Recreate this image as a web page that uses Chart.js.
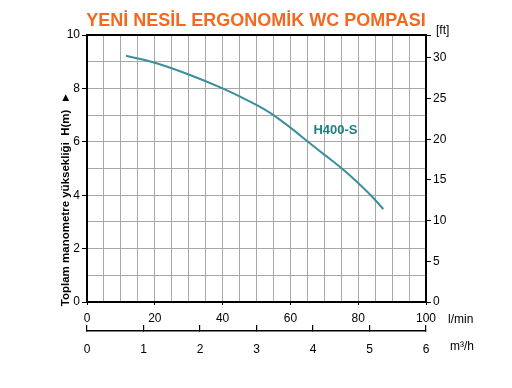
<!DOCTYPE html>
<html>
<head>
<meta charset="utf-8">
<script src="https://cdn.jsdelivr.net/npm/chart.js@4/dist/chart.umd.min.js"></script>
<style>
html,body{margin:0;padding:0;background:#fff;}
#wrap{width:512px;height:388px;}
</style>
</head>
<body>
<div id="wrap"><canvas id="c" width="512" height="388"></canvas></div>
<script>
const chartTitle = "YENİ NESİL ERGONOMİK WC POMPASI";
const yTitle = "Toplam manometre yüksekliği  H(m)  \u25BA";
const seriesName = "H400-S";
const flowLmin = [11.5, 20, 30, 40, 45, 50, 55, 60, 65, 70, 75, 80, 84, 87.4];
const headM = [9.22, 8.96, 8.52, 8.0, 7.70, 7.38, 7.0, 6.53, 6.02, 5.52, 5.02, 4.46, 3.96, 3.48];
const flowUnit = "l/min";
const flow2Unit = "m³/h";
const ftUnit = "[ft]";
const labelPos = {x: 73.3, y: 6.44};

const tickFont = {family: "'Liberation Sans Narrow','Liberation Sans',Arial,sans-serif", size: 12};
const gridGray = '#a8a8a8';

const extraText = {
  id: 'extraText',
  afterDraw(chart) {
    const ctx = chart.ctx;
    const ca = chart.chartArea;
    const sx = chart.scales.x, sy = chart.scales.y;
    ctx.save();
    ctx.fillStyle = '#000';
    ctx.font = "12px 'Liberation Sans Narrow','Liberation Sans',Arial,sans-serif";
    ctx.textBaseline = 'middle';
    ctx.textAlign = 'left';
    ctx.fillText(ftUnit, ca.right + 10, ca.top - 4);
    ctx.fillText(flowUnit, ca.right + 22, ca.bottom + 18);
    ctx.fillText(flow2Unit, ca.right + 24, ca.bottom + 45);
    // series label
    ctx.fillStyle = '#1d8080';
    ctx.font = "bold 13px 'Liberation Sans',Arial,sans-serif";
    ctx.textAlign = 'center';
    ctx.fillText(seriesName, sx.getPixelForValue(labelPos.x), sy.getPixelForValue(labelPos.y));
    // y title
    ctx.fillStyle = '#000';
    ctx.font = "bold 11.5px 'Liberation Sans',Arial,sans-serif";
    ctx.translate(66, 199);
    ctx.rotate(-Math.PI / 2);
    ctx.fillText(yTitle, 0, 0);
    ctx.restore();
  }
};

new Chart(document.getElementById('c'), {
  type: 'line',
  data: {
    datasets: [{
      label: seriesName,
      data: flowLmin.map((v, i) => ({x: v, y: headM[i]})),
      borderColor: '#3b8e9c',
      borderWidth: 2,
      pointRadius: 0,
      cubicInterpolationMode: 'monotone',
      fill: false
    }]
  },
  options: {
    responsive: false,
    animation: false,
    layout: {padding: 0},
    plugins: {
      legend: {display: false},
      tooltip: {enabled: false},
      title: {
        display: true,
        text: chartTitle,
        color: '#f26a21',
        font: {family: "'Liberation Sans',Arial,sans-serif", size: 18, weight: 'bold', lineHeight: 1.2},
        padding: {top: 10, bottom: 3.4}
      }
    },
    scales: {
      x: {
        type: 'linear', position: 'bottom', min: 0, max: 100,
        ticks: {stepSize: 5, autoSkip: false, maxRotation: 0, font: tickFont, color: '#000', padding: 6,
          callback: v => (v % 20 === 0 ? String(v) : '')},
        grid: {color: ctx => (ctx.tick && (ctx.tick.value === 0 || ctx.tick.value === 100) ? 'rgba(0,0,0,0)' : gridGray),
          lineWidth: 1, drawTicks: true, tickLength: 3,
          tickColor: ctx => (ctx.tick && ctx.tick.value % 20 === 0 ? '#000' : 'rgba(0,0,0,0)')},
        border: {color: '#000', width: 2},
        afterFit: s => { s.height = 29; }
      },
      x2: {
        type: 'linear', position: 'bottom', min: 0, max: 6,
        ticks: {stepSize: 1, autoSkip: false, maxRotation: 0, font: tickFont, color: '#000', padding: 17},
        grid: {drawOnChartArea: false, tickLength: -6, color: '#000', lineWidth: 1.2},
        border: {color: '#000', width: 1.5},
        afterFit: s => { s.height = 57; }
      },
      xtop: {
        type: 'linear', position: 'top', min: 0, max: 100,
        ticks: {display: false},
        grid: {drawOnChartArea: false, drawTicks: false},
        border: {color: '#000', width: 2},
        afterFit: s => { s.height = 0; }
      },
      y: {
        type: 'linear', position: 'left', min: 0, max: 10,
        ticks: {stepSize: 1, autoSkip: false, font: tickFont, color: '#000', padding: 2,
          callback: v => (v % 2 === 0 ? String(v) : '')},
        grid: {color: ctx => (ctx.tick && (ctx.tick.value === 0 || ctx.tick.value === 10) ? 'rgba(0,0,0,0)' : gridGray),
          lineWidth: 1, tickLength: 5,
          tickColor: ctx => (ctx.tick && ctx.tick.value % 2 === 0 ? '#000' : 'rgba(0,0,0,0)')},
        border: {color: '#000', width: 2},
        afterFit: s => { s.width = 87; }
      },
      yft: {
        type: 'linear', position: 'right', min: 0, max: 32.808,
        ticks: {stepSize: 5, autoSkip: false, font: tickFont, color: '#000', padding: 2,
          callback: v => (v % 5 === 0 ? String(v) : '')},
        grid: {drawOnChartArea: false, tickLength: 5, color: '#000'},
        border: {color: '#000', width: 2},
        afterFit: s => { s.width = 86; }
      }
    }
  },
  plugins: [extraText]
});
</script>
</body>
</html>
